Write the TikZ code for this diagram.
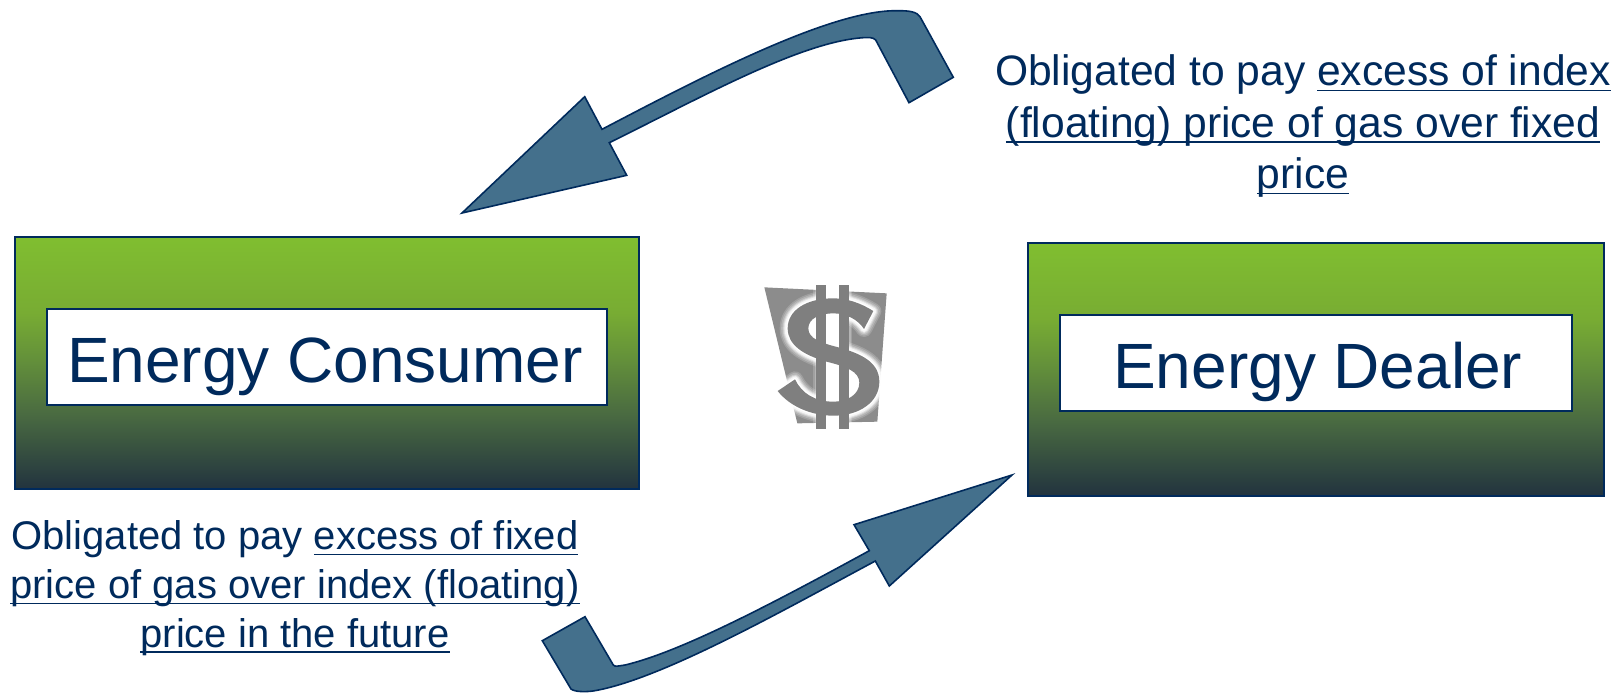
\documentclass[tikz,border=0pt]{standalone}
\usepackage{fontspec}
\setmainfont{Liberation Sans}
\definecolor{navy}{HTML}{002A5C}
\definecolor{steel}{HTML}{44708C}
\definecolor{dollar}{HTML}{7F7F7F}
\definecolor{dollarbg}{HTML}{8C8C8C}
\definecolor{gA}{HTML}{80BE30}
\definecolor{gB}{HTML}{78AC33}
\definecolor{gC}{HTML}{64913A}
\definecolor{gD}{HTML}{4A6B41}
\definecolor{gE}{HTML}{22333F}
\pgfdeclareverticalshading{boxgrad}{100bp}{
  color(0bp)=(gE); color(25bp)=(gE); color(40bp)=(gD); color(51bp)=(gC); color(60bp)=(gB); color(75bp)=(gA); color(100bp)=(gA)}
\newcommand{\ulx}[1]{\setbox0\hbox{#1}\rlap{\raisebox{-2.9pt}{\rule{\wd0}{0.8pt}}}\box0}
\tikzset{
  outerbox/.style={rectangle,draw=navy,line width=1pt,shading=boxgrad,inner sep=0pt},
  innerbox/.style={rectangle,draw=navy,line width=1pt,fill=white,inner sep=0pt,text=navy,text height=25.6pt,text depth=0pt,font=\fontsize{32}{38}\selectfont},
  note/.style={align=center,text=navy,inner sep=0pt},
  blockarrow/.style={draw=navy,line width=0.8pt,fill=steel,line join=miter},
}
\newcommand{\dollarS}{(400,123) .. controls (360,98) and (320,85) .. (280,85)
  .. controls (200,85) and (143,120) .. (143,175)
  .. controls (143,225) and (190,255) .. (260,275)
  .. controls (320,290) and (358,305) .. (358,338)
  .. controls (358,375) and (320,395) .. (280,395)
  .. controls (225,395) and (185,370) .. (165,328)
  -- (113,363)
  .. controls (150,410) and (215,437) .. (280,437)
  .. controls (360,437) and (418,395) .. (418,335)
  .. controls (418,275) and (360,250) .. (295,232)
  .. controls (240,218) and (205,205) .. (205,175)
  .. controls (205,145) and (240,130) .. (280,130)
  .. controls (320,130) and (355,150) .. (372,177) -- cycle}
\begin{document}
\begin{tikzpicture}[x=0.5pt,y=-0.5pt]
\useasboundingbox (0,0) rectangle (1616,692);
% boxes
\node[outerbox,minimum width=312.2pt,minimum height=126pt] (cons) at (327.2,363) {};
\node[innerbox,minimum width=280.2pt,minimum height=48pt] (consl) at (326.9,357) {\kern-2pt Energy Consumer};
\node[outerbox,minimum width=288.2pt,minimum height=126.2pt] (deal) at (1315.8,369.5) {};
\node[innerbox,minimum width=256.2pt,minimum height=47.9pt] (deall) at (1315.8,362.9) {\kern2pt Energy Dealer};
% notes
\node[note,font=\fontsize{21.3}{25.8}\selectfont] (tnote) at (1303,126)
  {Obligated to pay \ulx{excess of index}\\\ulx{(floating) price of gas over fixed}\\\ulx{price}};
\node[note,font=\fontsize{20}{24.4}\selectfont] (bnote) at (295,588)
  {Obligated to pay \ulx{excess of fixed}\\\ulx{price of gas over index (floating)}\\\ulx{price in the future}};
% arrows
\path[blockarrow] (462,213) -- (584.7,96.7) -- (602,129.3)
  .. controls (700,78) and (830,10) .. (896.7,10.7)
  .. controls (910,10.5) and (917,12) .. (920,16.7)
  -- (953.3,77.3) -- (909,102.7) -- (875.7,40)
  .. controls (873,37) and (868,37.5) .. (863,37.7)
  .. controls (800,42) and (700,98) .. (609.3,142.7)
  -- (626.7,175.3) -- cycle;
\path[blockarrow] (1012,475) -- (854,524.7) -- (869.3,550.7)
  .. controls (770,605) and (680,652) .. (625,665)
  .. controls (618,666) and (615,667) .. (613.3,665)
  -- (585,616.7) -- (542.3,640.7) -- (571,689)
  .. controls (575,692) and (585,692) .. (593,691)
  .. controls (660,680) and (780,612) .. (875.3,561)
  -- (889.3,586) -- cycle;
% dollar sign
\begin{scope}[shift={(740,270)},x=0.16667pt,y=-0.16667pt]
  \fill[dollarbg] (73,52) -- (440,70) -- (412,455) -- (172,460) -- cycle;
  \foreach \w/\o in {8/0.18,6.5/0.22,5/0.3,4/0.45,3/0.7,1.5/1}{
    \draw[white,opacity=\o,line width=\w pt,line join=round] \dollarS;
    \draw[white,opacity=\o,line width=\w pt] (243,45) -- (243,477) (313,45) -- (313,477);
  }
  \fill[white] (228,45) rectangle (328,477);
  \fill[white] (235,125) -- (195,175) -- (235,225) -- cycle;
  \fill[white] (322,290) -- (370,340) -- (322,390) -- cycle;
  \fill[dollar] \dollarS;
  \fill[dollar] (228,45) rectangle (258,477);
  \fill[dollar] (298,45) rectangle (328,477);
\end{scope}
\end{tikzpicture}
\end{document}
